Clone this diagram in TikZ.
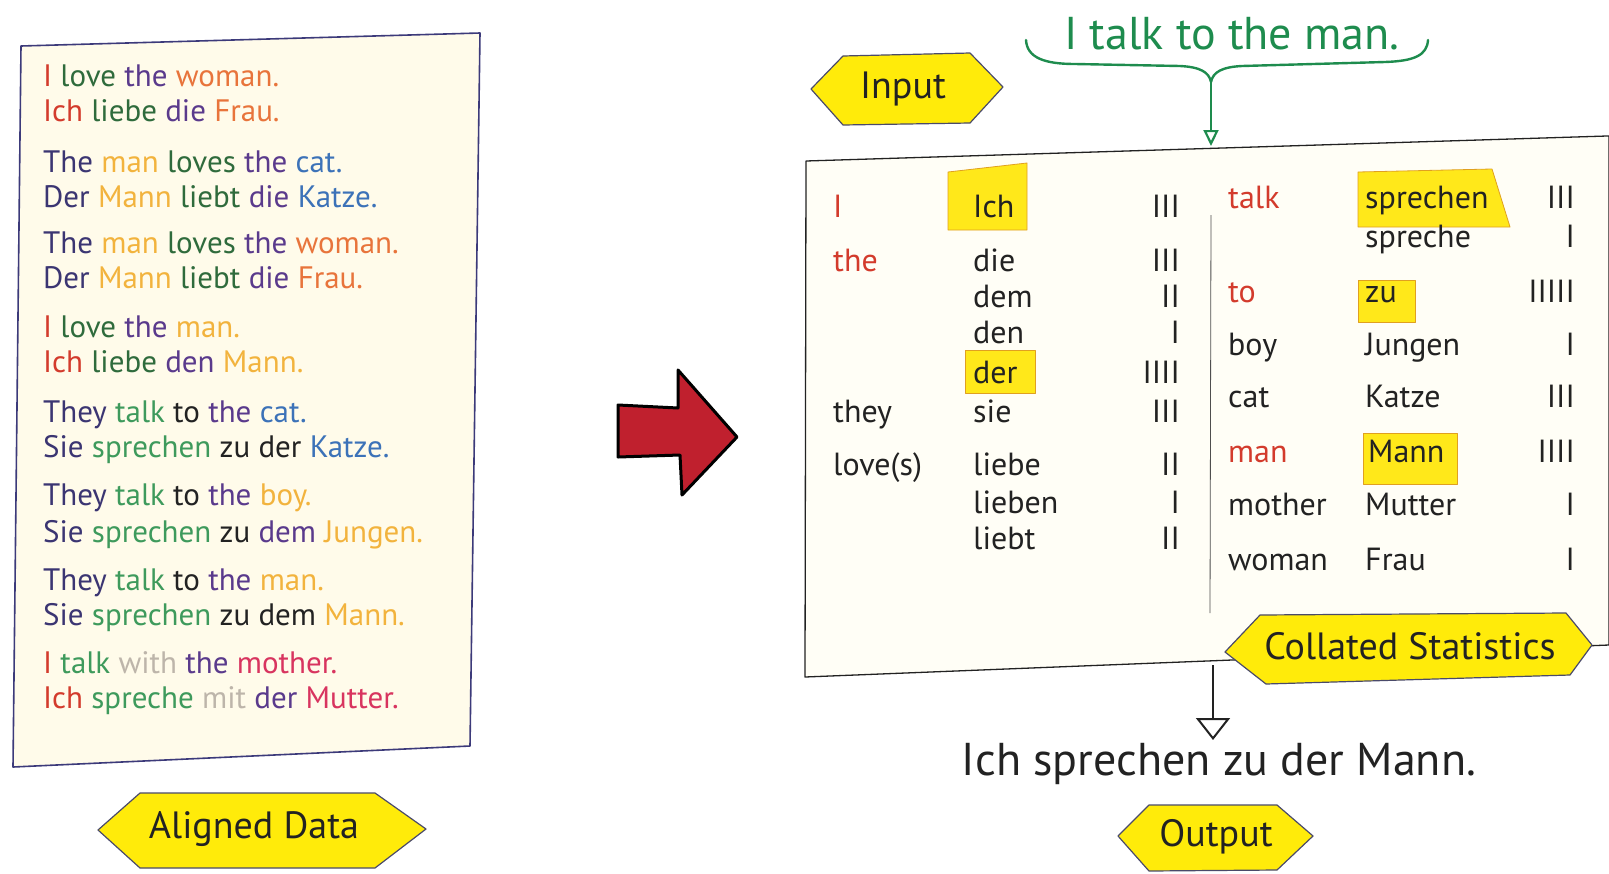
\documentclass[tikz,border=0pt]{standalone}
\usepackage{fontspec}
\setmainfont{PT Sans}
\usetikzlibrary{arrows.meta}
\definecolor{cRed}{HTML}{D33B2C}
\definecolor{cDG}{HTML}{2F6B3C}
\definecolor{cPur}{HTML}{5A3A8C}
\definecolor{cNavy}{HTML}{3B3572}
\definecolor{cOr}{HTML}{E8743B}
\definecolor{cYel}{HTML}{F2B33D}
\definecolor{cBlue}{HTML}{3C72B8}
\definecolor{cGr}{HTML}{3E9A5C}
\definecolor{cGray}{HTML}{BDB5AA}
\definecolor{cPink}{HTML}{D8345F}
\definecolor{cBlk}{HTML}{222222}
\definecolor{paper}{HTML}{FFFBEA}
\definecolor{paperLine}{HTML}{3C3A7A}
\definecolor{tabFill}{HTML}{FFFEF6}
\definecolor{tagYel}{HTML}{FFEB0A}
\definecolor{tagLine}{HTML}{4A4A6A}
\definecolor{hlYel}{HTML}{FFE81A}
\definecolor{hlLine}{HTML}{E0A020}
\definecolor{inGreen}{HTML}{1E8C4E}
\definecolor{arrRed}{HTML}{C0202E}
\newcommand\wc[2]{\textcolor{#1}{#2}}
\begin{document}
\begin{tikzpicture}[x=1pt,y=-1pt,
  lt/.style={anchor=base west, inner sep=0pt, font=\fontsize{31}{33}\selectfont},
  tt/.style={anchor=base west, inner sep=0pt, font=\fontsize{32}{34}\selectfont, text=cBlk},
  tr/.style={anchor=base east, inner sep=0pt, font=\fontsize{32}{34}\selectfont, text=cBlk},
  tagbox/.style={fill=tagYel, draw=tagLine, line width=1.2pt, line join=round},
  tagtext/.style={inner sep=0pt, font=\fontsize{38}{40}\selectfont, text=cBlk},
  hlbox/.style={fill=hlYel, draw=hlLine, line width=0.8pt, line join=round}]
\useasboundingbox (0,0) rectangle (1609,873);

% ---------- left paper ----------
\draw[fill=paper, draw=paperLine, line width=1.6pt, line join=round]
  (21,46) -- (480,33) -- (470,746) -- (13,767) -- cycle;

\node[lt] (a1) at (43,86) {\wc{cRed}{I} \wc{cDG}{love} \wc{cPur}{the} \wc{cOr}{woman.}};
\node[lt] (a2) at (43,121) {\wc{cRed}{Ich} \wc{cDG}{liebe} \wc{cPur}{die} \wc{cOr}{Frau.}};
\node[lt] (b1) at (43,172) {\wc{cNavy}{The} \wc{cYel}{man} \wc{cDG}{loves} \wc{cPur}{the} \wc{cBlue}{cat.}};
\node[lt] (b2) at (43,207) {\wc{cNavy}{Der} \wc{cYel}{Mann} \wc{cDG}{liebt} \wc{cPur}{die} \wc{cBlue}{Katze.}};
\node[lt] (c1) at (43,253) {\wc{cNavy}{The} \wc{cYel}{man} \wc{cDG}{loves} \wc{cPur}{the} \wc{cOr}{woman.}};
\node[lt] (c2) at (43,288) {\wc{cNavy}{Der} \wc{cYel}{Mann} \wc{cDG}{liebt} \wc{cPur}{die} \wc{cOr}{Frau.}};
\node[lt] (d1) at (43,337) {\wc{cRed}{I} \wc{cDG}{love} \wc{cPur}{the} \wc{cYel}{man.}};
\node[lt] (d2) at (43,372) {\wc{cRed}{Ich} \wc{cDG}{liebe} \wc{cPur}{den} \wc{cYel}{Mann.}};
\node[lt] (e1) at (43,422) {\wc{cNavy}{They} \wc{cGr}{talk} \wc{cBlk}{to} \wc{cPur}{the} \wc{cBlue}{cat.}};
\node[lt] (e2) at (43,457) {\wc{cNavy}{Sie} \wc{cGr}{sprechen} \wc{cBlk}{zu} \wc{cBlk}{der} \wc{cBlue}{Katze.}};
\node[lt] (f1) at (43,505) {\wc{cNavy}{They} \wc{cGr}{talk} \wc{cBlk}{to} \wc{cPur}{the} \wc{cYel}{boy.}};
\node[lt] (f2) at (43,542) {\wc{cNavy}{Sie} \wc{cGr}{sprechen} \wc{cBlk}{zu} \wc{cPur}{dem} \wc{cYel}{Jungen.}};
\node[lt] (g1) at (43,590) {\wc{cNavy}{They} \wc{cGr}{talk} \wc{cBlk}{to} \wc{cPur}{the} \wc{cYel}{man.}};
\node[lt] (g2) at (43,625) {\wc{cNavy}{Sie} \wc{cGr}{sprechen} \wc{cBlk}{zu} \wc{cBlk}{dem} \wc{cYel}{Mann.}};
\node[lt] (h1) at (43,673) {\wc{cRed}{I} \wc{cGr}{talk} \wc{cGray}{with} \wc{cPur}{the} \wc{cPink}{mother.}};
\node[lt] (h2) at (43,708) {\wc{cRed}{Ich} \wc{cGr}{spreche} \wc{cGray}{mit} \wc{cPur}{der} \wc{cPink}{Mutter.}};

% Aligned Data tag
\draw[tagbox] (98,830) -- (140,793) -- (375,793) -- (426,829) -- (375,868) -- (140,868) -- cycle;
\node[tagtext] (aligned) at (254,829) {Aligned Data};

% ---------- red arrow ----------
\draw[fill=arrRed, draw=black, line width=3pt, line join=round]
  (618,405) -- (678,408) -- (678,370) -- (737,437) -- (682,495) -- (680,455) -- (618,457) -- cycle;

% ---------- input ----------
\draw[tagbox] (811,89) -- (843,56) -- (970,53) -- (1003,87) -- (970,123) -- (843,125) -- cycle;
\node[tagtext] (inputlbl) at (903,89) {Input};

\node[inner sep=0pt, font=\fontsize{46}{48}\selectfont, text=inGreen] (insent) at (1232,34) {I talk to the man.};
\coordinate (brc) at (1211,82);
\coordinate (tabtop) at (1211,146);
\draw[inGreen, line width=2.4pt, line cap=round, line join=round]
  (1026,40) .. controls (1027,58) and (1045,64) .. (1075,64) -- (1180,66)
  .. controls (1200,67) and (1209,72) .. (brc)
  .. controls (1213,72) and (1222,67) .. (1242,66) -- (1385,62)
  .. controls (1415,61) and (1427,55) .. (1428,40);
\draw[inGreen, line width=2.4pt, -{Triangle[open, length=16pt, width=15pt, line width=2.2pt]}] (brc) -- (tabtop);

% ---------- table ----------
\draw[fill=tabFill, draw=cBlk, line width=1.3pt, line join=round]
  (806,161) -- (1607,136) -- (1609,136) -- (1609,645) -- (805,677) -- cycle;
\draw[cBlk!80, line width=0.8pt] (1211,215) -- (1210,613);

% highlights
\draw[hlbox] (948,172) -- (1027,163) -- (1027,230) -- (948,230) -- cycle;
\draw[hlbox] (965,350) -- (1035,350) -- (1035,393) -- (965,393) -- cycle;
\draw[hlbox] (1358,172) -- (1492,169) -- (1510,227) -- (1358,227) -- cycle;
\draw[hlbox] (1358,280) -- (1415,280) -- (1415,322) -- (1358,322) -- cycle;
\draw[hlbox] (1363,433) -- (1457,433) -- (1457,484) -- (1363,484) -- cycle;

% left columns
\node[tt, text=cRed] (eI) at (833,217) {I};
\node[tt] (gIch) at (973,217) {Ich};
\node[tr] (nIch) at (1180,217) {III};
\node[tt, text=cRed] (ethe) at (833,271) {the};
\node[tt] (gdie) at (973,271) {die};
\node[tr] (ndie) at (1180,271) {III};
\node[tt] (gdem) at (973,307) {dem};
\node[tr] (ndem) at (1180,307) {II};
\node[tt] (gden) at (973,343) {den};
\node[tr] (nden) at (1180,343) {I};
\node[tt] (gder) at (973,383) {der};
\node[tr] (nder) at (1180,383) {IIII};
\node[tt] (ethey) at (833,422) {they};
\node[tt] (gsie) at (973,422) {sie};
\node[tr] (nsie) at (1180,422) {III};
\node[tt] (elove) at (833,475) {love(s)};
\node[tt] (gliebe) at (973,475) {liebe};
\node[tr] (nliebe) at (1180,475) {II};
\node[tt] (glieben) at (973,513) {lieben};
\node[tr] (nlieben) at (1180,513) {I};
\node[tt] (gliebt) at (973,549) {liebt};
\node[tr] (nliebt) at (1180,549) {II};

% right columns
\node[tt, text=cRed] (etalk) at (1228,208) {talk};
\node[tt] (gsprechen) at (1365,208) {sprechen};
\node[tr] (nsprechen) at (1575,208) {III};
\node[tt] (gspreche) at (1365,247) {spreche};
\node[tr] (nspreche) at (1575,247) {I};
\node[tt, text=cRed] (eto) at (1228,302) {to};
\node[tt] (gzu) at (1365,302) {zu};
\node[tr] (nzu) at (1575,302) {IIIII};
\node[tt] (eboy) at (1228,355) {boy};
\node[tt] (gjungen) at (1365,355) {Jungen};
\node[tr] (njungen) at (1575,355) {I};
\node[tt] (ecat) at (1228,407) {cat};
\node[tt] (gkatze) at (1365,407) {Katze};
\node[tr] (nkatze) at (1575,407) {III};
\node[tt, text=cRed] (eman) at (1228,462) {man};
\node[tt] (gmann) at (1368,462) {Mann};
\node[tr] (nmann) at (1575,462) {IIII};
\node[tt] (emother) at (1228,515) {mother};
\node[tt] (gmutter) at (1365,515) {Mutter};
\node[tr] (nmutter) at (1575,515) {I};
\node[tt] (ewoman) at (1228,570) {woman};
\node[tt] (gfrau) at (1365,570) {Frau};
\node[tr] (nfrau) at (1575,570) {I};

% Collated Statistics tag
\draw[tagbox] (1225,652) -- (1260,615) -- (1566,613) -- (1592,645) -- (1570,675) -- (1266,684) -- cycle;
\node[tagtext] (collated) at (1410,646) {Collated Statistics};

% ---------- output ----------
\coordinate (tabbot) at (1213,665);
\coordinate (outarr) at (1213,740);
\draw[cBlk, line width=2.2pt, -{Triangle[open, length=22pt, width=34pt, line width=2pt]}] (tabbot) -- (outarr);
\node[inner sep=0pt, font=\fontsize{46}{48}\selectfont, text=cBlk] (outsent) at (1219,764) {Ich sprechen zu der Mann.};

\draw[tagbox] (1118,836) -- (1149,805) -- (1277,805) -- (1313,836) -- (1277,870) -- (1149,871) -- cycle;
\node[tagtext] (outputlbl) at (1216,837) {Output};
\end{tikzpicture}
\end{document}
